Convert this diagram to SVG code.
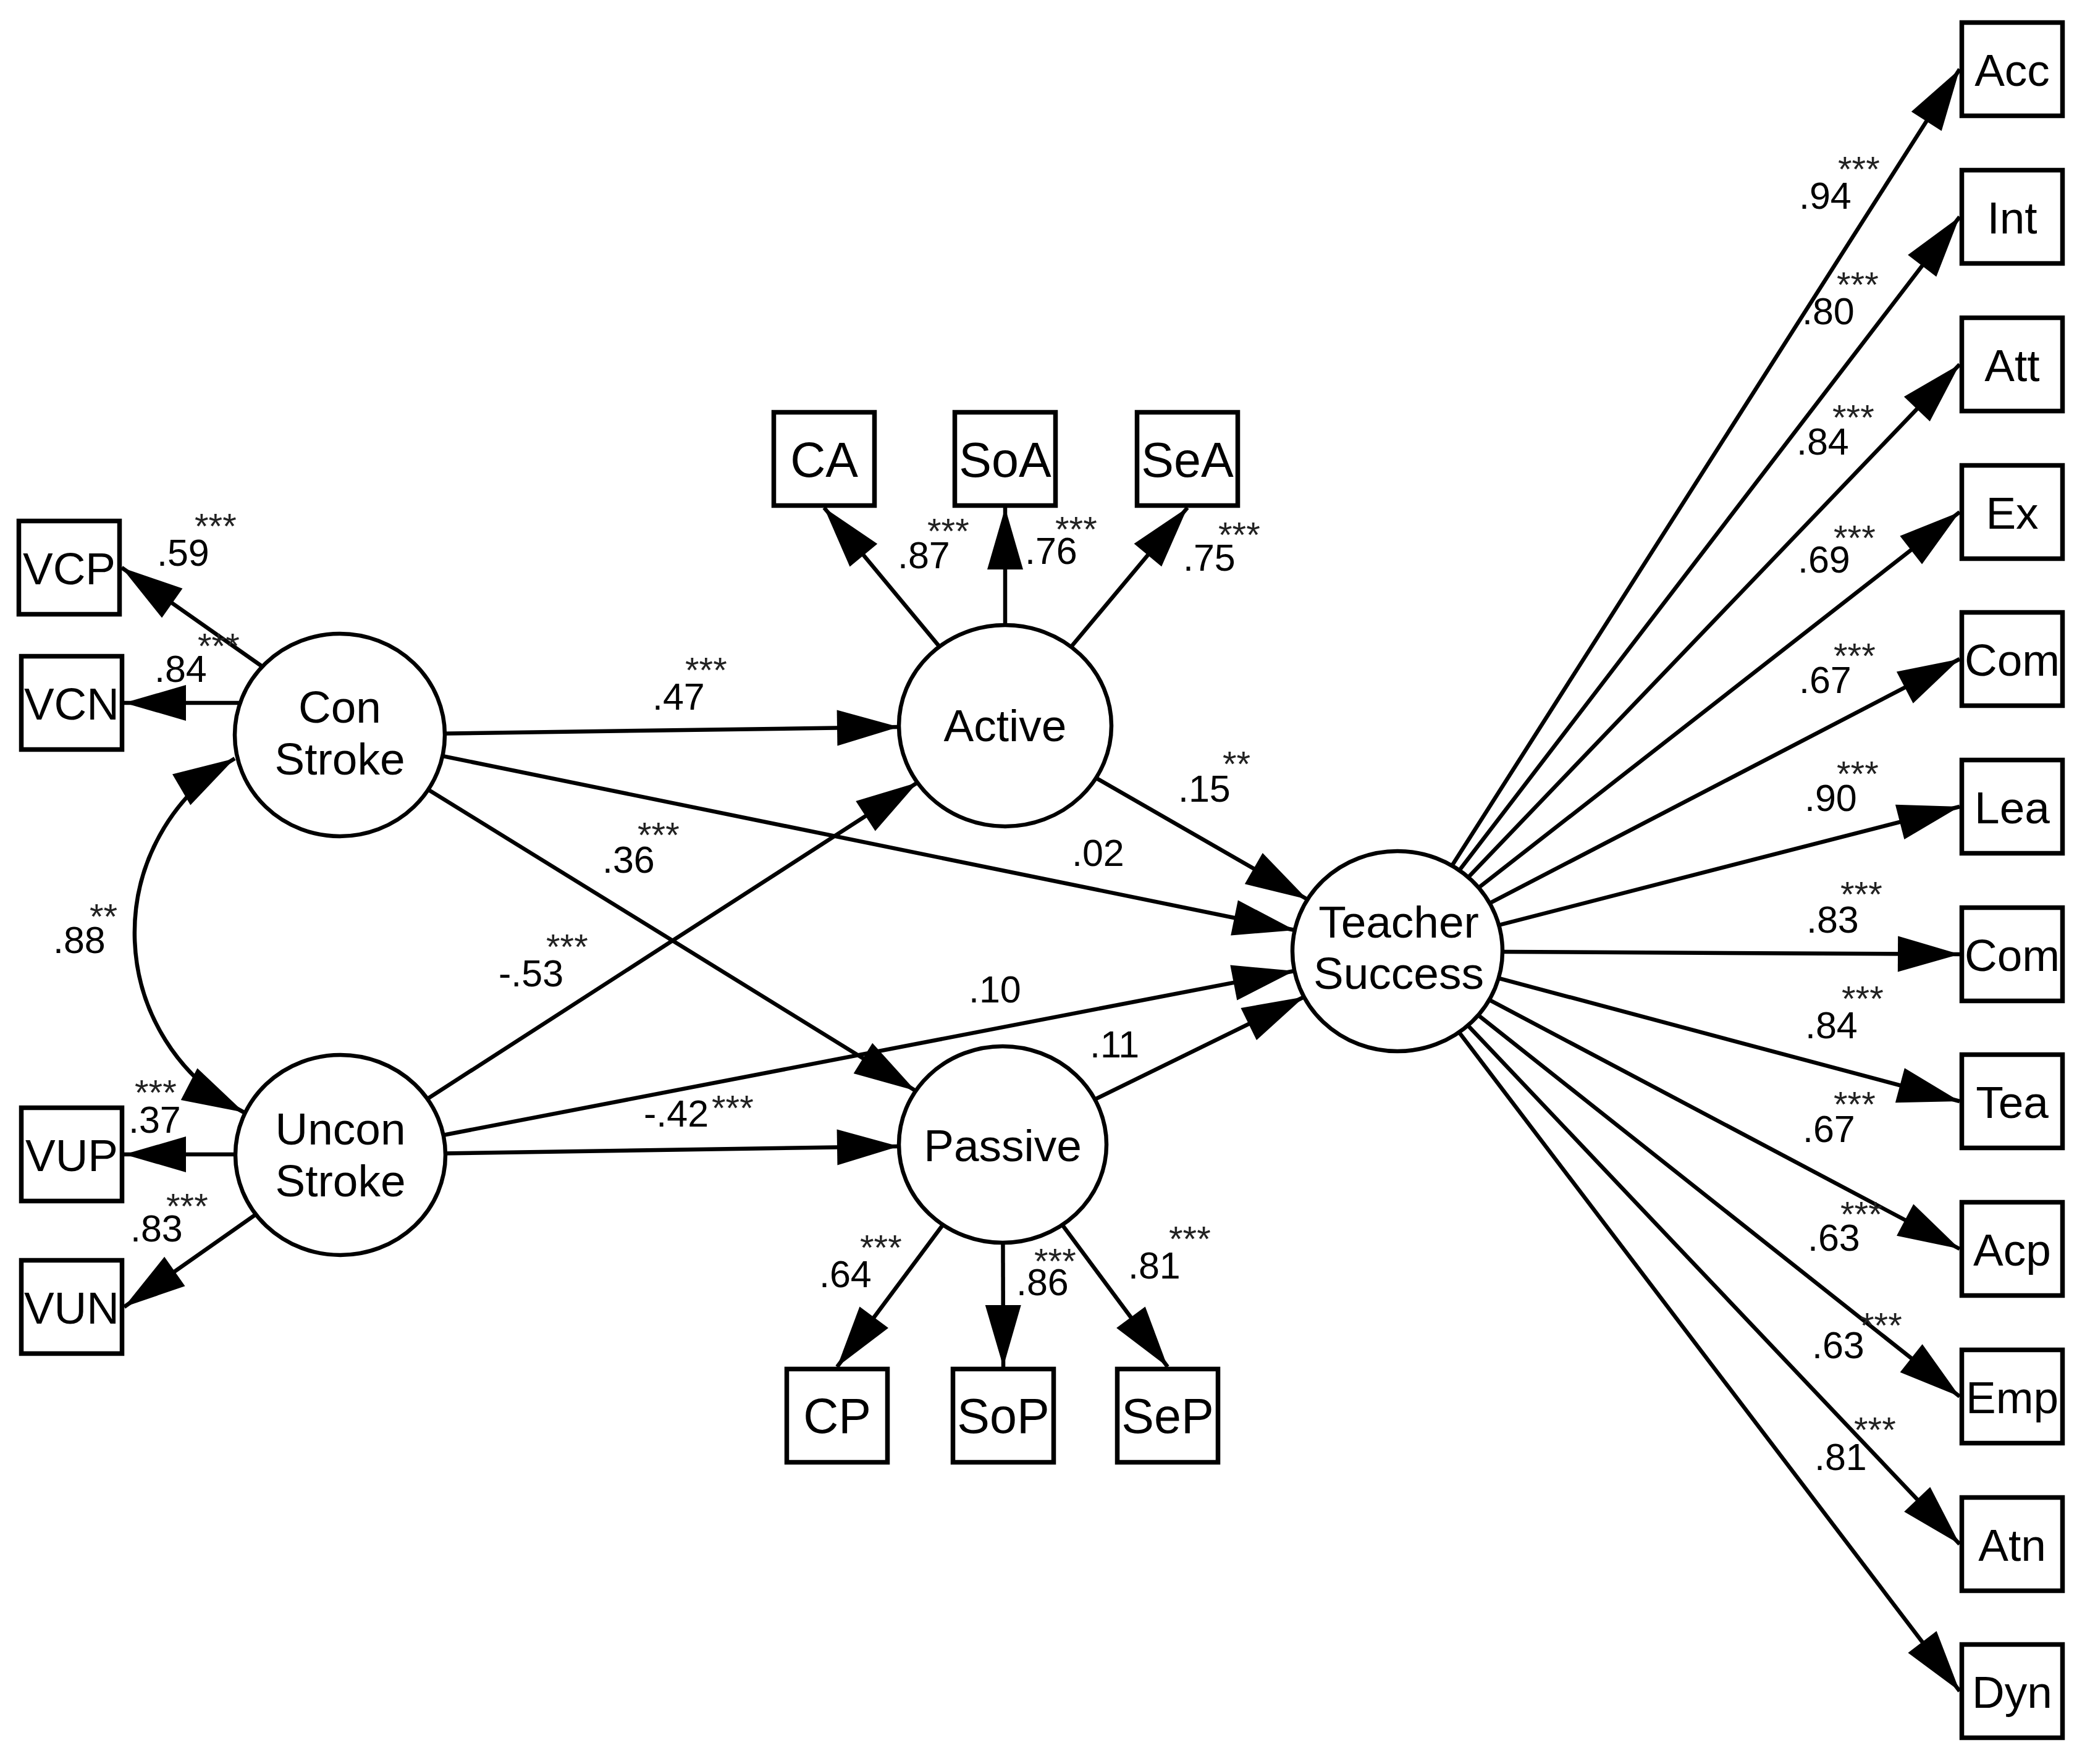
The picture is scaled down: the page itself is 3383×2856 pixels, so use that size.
<svg xmlns="http://www.w3.org/2000/svg" width="3383" height="2856" viewBox="0 0 3383 2856">
<defs>
<marker id="arr" markerUnits="userSpaceOnUse" markerWidth="110" markerHeight="64" refX="100" refY="29" orient="auto" overflow="visible"><path d="M0,0 L100,29 L0,58 z" fill="#000"/></marker>
<marker id="arrS" markerUnits="userSpaceOnUse" markerWidth="110" markerHeight="64" refX="100" refY="29" orient="auto-start-reverse" overflow="visible"><path d="M0,0 L100,29 L0,58 z" fill="#000"/></marker>
</defs>
<style>
.conn line, .conn path { stroke:#000; stroke-width:6.5; fill:none; marker-end:url(#arr); }
.box rect { fill:#fff; stroke:#000; stroke-width:7.5; }
.lat ellipse { fill:#fff; stroke:#000; stroke-width:6.5; }
text { font-family:"Liberation Sans", Arial, sans-serif; fill:#000; }
.box text { font-size:73px; text-anchor:middle; }
.box.mid text { font-size:79px; }
.lat text { font-size:73px; text-anchor:middle; }
.coef { font-size:61px; }
.sig { font-size:58px; fill:#222; }
</style>
<rect width="3383" height="2856" fill="#fff"/>

<g id="connectors" class="conn">
<line x1="430" y1="1083" x2="197" y2="919"/>
<line x1="400" y1="1138" x2="201" y2="1138"/>
<line x1="400" y1="1869" x2="201" y2="1869"/>
<line x1="551" y1="1870" x2="201" y2="2116"/>
<path d="M380,1228 A327,327 0 0 0 395,1801" style="marker-start:url(#arrS)"/>
<line x1="550" y1="1190" x2="1455" y2="1177"/>
<line x1="550" y1="1190" x2="2096" y2="1506"/>
<line x1="550" y1="1190" x2="1482" y2="1766"/>
<line x1="551" y1="1870" x2="1485" y2="1267"/>
<line x1="551" y1="1870" x2="2095" y2="1572"/>
<line x1="551" y1="1870" x2="1455" y2="1856"/>
<line x1="1627" y1="1175" x2="2116" y2="1456"/>
<line x1="1623" y1="1853" x2="2111" y2="1614"/>
<line x1="1627" y1="1175" x2="1334" y2="822"/>
<line x1="1627" y1="1175" x2="1627" y2="822"/>
<line x1="1627" y1="1175" x2="1922" y2="822"/>
<line x1="1623" y1="1853" x2="1355" y2="2213"/>
<line x1="1623" y1="1853" x2="1624" y2="2213"/>
<line x1="1623" y1="1853" x2="1890" y2="2213"/>
<line x1="2262" y1="1540" x2="3172" y2="112"/>
<line x1="2262" y1="1540" x2="3172" y2="351"/>
<line x1="2262" y1="1540" x2="3172" y2="590"/>
<line x1="2262" y1="1540" x2="3172" y2="829"/>
<line x1="2262" y1="1540" x2="3172" y2="1067"/>
<line x1="2262" y1="1540" x2="3172" y2="1306"/>
<line x1="2262" y1="1540" x2="3172" y2="1545"/>
<line x1="2262" y1="1540" x2="3172" y2="1783"/>
<line x1="2262" y1="1540" x2="3172" y2="2022"/>
<line x1="2262" y1="1540" x2="3172" y2="2261"/>
<line x1="2262" y1="1540" x2="3172" y2="2500"/>
<line x1="2262" y1="1540" x2="3172" y2="2738"/>
</g>

<g id="node-VCP" class="box"><rect x="30.5" y="843.5" width="163" height="151"/><text x="112" y="946">VCP</text></g>
<g id="node-VCN" class="box"><rect x="34.5" y="1062.5" width="163" height="151"/><text x="116" y="1165">VCN</text></g>
<g id="node-VUP" class="box"><rect x="34.5" y="1793.5" width="163" height="151"/><text x="116" y="1896">VUP</text></g>
<g id="node-VUN" class="box"><rect x="34.5" y="2040.5" width="163" height="151"/><text x="116" y="2143">VUN</text></g>

<g id="node-CA" class="box mid"><rect x="1252.5" y="667.5" width="163" height="151"/><text x="1334" y="772">CA</text></g>
<g id="node-SoA" class="box mid"><rect x="1545.5" y="667.5" width="163" height="151"/><text x="1627" y="772">SoA</text></g>
<g id="node-SeA" class="box mid"><rect x="1840.5" y="667.5" width="163" height="151"/><text x="1922" y="772">SeA</text></g>

<g id="node-CP" class="box mid"><rect x="1273.5" y="2216.5" width="163" height="151"/><text x="1355" y="2320">CP</text></g>
<g id="node-SoP" class="box mid"><rect x="1542.5" y="2216.5" width="163" height="151"/><text x="1624" y="2320">SoP</text></g>
<g id="node-SeP" class="box mid"><rect x="1808.5" y="2216.5" width="163" height="151"/><text x="1890" y="2320">SeP</text></g>

<g id="node-Acc" class="box"><rect x="3175.5" y="36.5" width="163" height="151"/><text x="3257" y="139">Acc</text></g>
<g id="node-Int" class="box"><rect x="3175.5" y="275.5" width="163" height="151"/><text x="3257" y="378">Int</text></g>
<g id="node-Att" class="box"><rect x="3175.5" y="514.5" width="163" height="151"/><text x="3257" y="617">Att</text></g>
<g id="node-Ex" class="box"><rect x="3175.5" y="753.5" width="163" height="151"/><text x="3257" y="856">Ex</text></g>
<g id="node-Com1" class="box"><rect x="3175.5" y="991.5" width="163" height="151"/><text x="3257" y="1094">Com</text></g>
<g id="node-Lea" class="box"><rect x="3175.5" y="1230.5" width="163" height="151"/><text x="3257" y="1333">Lea</text></g>
<g id="node-Com2" class="box"><rect x="3175.5" y="1469.5" width="163" height="151"/><text x="3257" y="1572">Com</text></g>
<g id="node-Tea" class="box"><rect x="3175.5" y="1707.5" width="163" height="151"/><text x="3257" y="1810">Tea</text></g>
<g id="node-Acp" class="box"><rect x="3175.5" y="1946.5" width="163" height="151"/><text x="3257" y="2049">Acp</text></g>
<g id="node-Emp" class="box"><rect x="3175.5" y="2185.5" width="163" height="151"/><text x="3257" y="2288">Emp</text></g>
<g id="node-Atn" class="box"><rect x="3175.5" y="2424.5" width="163" height="151"/><text x="3257" y="2527">Atn</text></g>
<g id="node-Dyn" class="box"><rect x="3175.5" y="2662.5" width="163" height="151"/><text x="3257" y="2765">Dyn</text></g>

<g id="node-ConStroke" class="lat"><ellipse cx="550" cy="1190" rx="170" ry="164"/><text x="550" y="1170">Con</text><text x="550" y="1254">Stroke</text></g>
<g id="node-UnconStroke" class="lat"><ellipse cx="551" cy="1870" rx="170" ry="162"/><text x="551" y="1853">Uncon</text><text x="551" y="1937">Stroke</text></g>
<g id="node-Active" class="lat"><ellipse cx="1627" cy="1175" rx="172" ry="163"/><text x="1627" y="1200">Active</text></g>
<g id="node-Passive" class="lat"><ellipse cx="1623" cy="1853" rx="168" ry="159"/><text x="1623" y="1880">Passive</text></g>
<g id="node-TeacherSuccess" class="lat"><ellipse cx="2262" cy="1540" rx="170" ry="162"/><text x="2264" y="1518">Teacher</text><text x="2264" y="1601">Success</text></g>

<g id="labels">
<text class="coef" x="254" y="916">.59</text><text class="sig" x="315" y="872">***</text>
<text class="coef" x="250" y="1104">.84</text><text class="sig" x="320" y="1066">***</text>
<text class="coef" x="86" y="1543">.88</text><text class="sig" x="145" y="1504">**</text>
<text class="coef" x="208" y="1834">.37</text><text class="sig" x="218" y="1789">***</text>
<text class="coef" x="211" y="2010">.83</text><text class="sig" x="269" y="1973">***</text>

<text class="coef" x="1453" y="920">.87</text><text class="sig" x="1501" y="880">***</text>
<text class="coef" x="1659" y="913">.76</text><text class="sig" x="1708" y="877">***</text>
<text class="coef" x="1915" y="924">.75</text><text class="sig" x="1972" y="886">***</text>

<text class="coef" x="1326" y="2084">.64</text><text class="sig" x="1392" y="2040">***</text>
<text class="coef" x="1645" y="2097">.86</text><text class="sig" x="1674" y="2062">***</text>
<text class="coef" x="1826" y="2070">.81</text><text class="sig" x="1892" y="2026">***</text>

<text class="coef" x="1056" y="1149">.47</text><text class="sig" x="1109" y="1105">***</text>
<text class="coef" x="1907" y="1298">.15</text><text class="sig" x="1979" y="1257">**</text>
<text class="coef" x="975" y="1413">.36</text><text class="sig" x="1032" y="1372">***</text>
<text class="coef" x="1735" y="1402">.02</text>
<text class="coef" x="807" y="1597">-.53</text><text class="sig" x="884" y="1553">***</text>
<text class="coef" x="1568" y="1623">.10</text>
<text class="coef" x="1764" y="1712">.11</text>
<text class="coef" x="1042" y="1824">-.42</text><text class="sig" x="1152" y="1814">***</text>

<text class="coef" x="2912" y="338">.94</text><text class="sig" x="2975" y="294">***</text>
<text class="coef" x="2917" y="525">.80</text><text class="sig" x="2973" y="481">***</text>
<text class="coef" x="2908" y="736">.84</text><text class="sig" x="2966" y="696">***</text>
<text class="coef" x="2910" y="927">.69</text><text class="sig" x="2968" y="891">***</text>
<text class="coef" x="2912" y="1122">.67</text><text class="sig" x="2968" y="1082">***</text>
<text class="coef" x="2921" y="1313">.90</text><text class="sig" x="2973" y="1273">***</text>
<text class="coef" x="2924" y="1510">.83</text><text class="sig" x="2979" y="1468">***</text>
<text class="coef" x="2922" y="1681">.84</text><text class="sig" x="2981" y="1637">***</text>
<text class="coef" x="2918" y="1849">.67</text><text class="sig" x="2968" y="1808">***</text>
<text class="coef" x="2926" y="2025">.63</text><text class="sig" x="2979" y="1986">***</text>
<text class="coef" x="2933" y="2199">.63</text><text class="sig" x="3011" y="2166">***</text>
<text class="coef" x="2937" y="2380">.81</text><text class="sig" x="3001" y="2335">***</text>
</g>
</svg>
